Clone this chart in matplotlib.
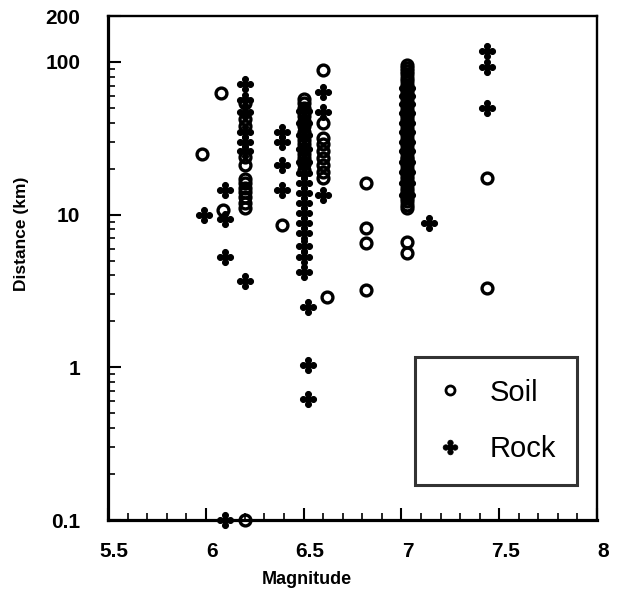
import numpy as np
import matplotlib
matplotlib.use("Agg")
import matplotlib.pyplot as plt
from matplotlib.path import Path
from matplotlib.lines import Line2D
from matplotlib.ticker import FixedLocator, NullFormatter
from matplotlib.transforms import ScaledTranslation

plt.rcParams['font.family'] = ['Liberation Sans', 'DejaVu Sans']

# Soil sites: (magnitude, distance in km)
soil_mag = [5.98, 6.08, 6.09,
            6.2, 6.2, 6.2, 6.2, 6.2, 6.2, 6.2, 6.2, 6.2, 6.2, 6.2, 6.2, 6.2,
            6.39,
            6.5, 6.5, 6.5, 6.5, 6.5, 6.5, 6.5, 6.5, 6.5, 6.5, 6.5, 6.5,
            6.5, 6.5, 6.5, 6.5,
            6.6, 6.6, 6.6, 6.6, 6.6, 6.6, 6.6, 6.6, 6.6, 6.62,
            6.82, 6.82, 6.82, 6.82,
            7.03, 7.03, 7.03, 7.03, 7.03, 7.03, 7.03, 7.03, 7.03, 7.03,
            7.03, 7.03, 7.03, 7.03, 7.03, 7.03, 7.03, 7.03, 7.03, 7.03,
            7.03, 7.03, 7.03, 7.03, 7.03, 7.03, 7.03, 7.03, 7.03, 7.03,
            7.03, 7.03, 7.03, 7.03, 7.03, 7.03, 7.03, 7.03, 7.03, 7.03,
            7.03, 7.03, 7.03,
            7.03, 7.03,
            7.44, 7.44]
soil_dist = [25, 63, 10.7,
             54, 42, 38, 24, 21, 17, 16, 15, 14, 13, 12, 11, 0.1,
             8.5,
             57, 54, 50, 47, 44, 41, 38, 35, 33, 31, 29, 27,
             25, 23.5, 21.5, 19.5,
             88, 40, 32, 29, 26, 23.5, 21, 19, 17.5, 2.9,
             16, 8.2, 6.5, 3.2,
             95, 91, 87, 83, 79, 75, 71, 67, 64, 61,
             58, 55, 52, 49, 47, 45, 43, 41, 39, 37,
             35, 33, 31.5, 30, 28.5, 27, 25.5, 24, 23, 22,
             21, 20, 19, 18, 17, 16, 15, 14.3, 13.6, 12.9,
             12.2, 11.5, 11,
             6.6, 5.6,
             17.5, 3.3]

# Rock sites: (magnitude, distance in km)
rock_mag = [5.99,
            6.1, 6.1, 6.1, 6.1,
            6.2, 6.2, 6.2, 6.2, 6.2, 6.2, 6.2,
            6.39, 6.39, 6.39, 6.39,
            6.5, 6.5, 6.5, 6.5, 6.5, 6.5, 6.5, 6.5, 6.5, 6.5, 6.5, 6.5,
            6.5, 6.5, 6.5, 6.52, 6.52, 6.52,
            6.6, 6.6, 6.6,
            7.03, 7.03, 7.03, 7.03, 7.03, 7.03, 7.03, 7.03, 7.03, 7.03,
            7.03, 7.03,
            7.14,
            7.44, 7.44, 7.44]
rock_dist = [10,
             14.5, 9.3, 5.3, 0.1,
             72, 56, 47, 35, 30, 26, 3.7,
             35, 30, 21, 14.5,
             48, 40, 33, 27, 22, 18.6, 16.2, 13.9, 11.9, 10.2, 8.8, 7.6,
             6.2, 5.3, 4.2, 2.5, 1.03, 0.62,
             64, 47, 13.5,
             68, 60, 53, 46, 40, 35, 30, 26, 22, 19,
             16, 13.5,
             8.8,
             118, 92, 50]

x_ticks = [5.5, 6, 6.5, 7, 7.5, 8]
x_tick_labels = ['5.5', '6', '6.5', '7', '7.5', '8']
y_ticks = [0.1, 1, 10, 100, 200]
y_tick_labels = ['0.1', '1', '10', '100', '200']


def lobed_cross():
    """Four-lobed cross outline (club-like plus sign)."""
    th = np.linspace(0, 2 * np.pi, 721)[:-1]
    rs = np.linspace(0, 1.2, 600)
    out = []
    for t in th:
        px = rs * np.cos(t)
        py = rs * np.sin(t)
        inside = (px ** 2 + py ** 2) <= 0.34 ** 2
        for cx, cy in [(0.62, 0), (-0.62, 0), (0, 0.62), (0, -0.62)]:
            inside |= (px - cx) ** 2 + (py - cy) ** 2 <= 0.36 ** 2
        inside |= (np.abs(px) <= 0.18) & (np.abs(py) <= 0.7)
        inside |= (np.abs(py) <= 0.18) & (np.abs(px) <= 0.7)
        r = rs[inside].max()
        out.append((r * np.cos(t), r * np.sin(t)))
    out.append(out[0])
    codes = [Path.MOVETO] + [Path.LINETO] * (len(out) - 2) + [Path.CLOSEPOLY]
    return Path(out, codes)


rock_marker = lobed_cross()

fig = plt.figure(figsize=(6.21, 5.98), dpi=100)
ax = fig.add_axes([108 / 621, (598 - 520) / 598, (597 - 108) / 621, (520 - 16) / 598])

ax.plot(soil_mag, soil_dist, linestyle='none', marker='o', markersize=7.8,
        markerfacecolor='none', markeredgecolor='black', markeredgewidth=2.4,
        clip_on=False, zorder=3)
ax.plot(rock_mag, rock_dist, linestyle='none', marker=rock_marker, markersize=11.5,
        markerfacecolor='black', markeredgecolor='black', markeredgewidth=0.8,
        clip_on=False, zorder=3)

ax.set_yscale('log')
ax.set_xlim(5.5, 8)
ax.set_ylim(0.1, 200)

ax.set_xticks(x_ticks)
ax.set_xticklabels(x_tick_labels)
ax.xaxis.set_minor_locator(FixedLocator(np.round(np.arange(5.6, 8.0, 0.1), 2)))
ax.set_yticks(y_ticks)
ax.set_yticklabels(y_tick_labels)
minors = [m * 10.0 ** e for e in (-1, 0, 1) for m in range(2, 10)]
ax.yaxis.set_minor_locator(FixedLocator(minors))
ax.yaxis.set_minor_formatter(NullFormatter())

ax.tick_params(axis='both', which='major', direction='in', length=9, width=1.5,
               labelsize=15)
ax.tick_params(axis='both', which='minor', direction='in', length=5, width=1.2)
ax.tick_params(axis='x', which='both', pad=16)
ax.tick_params(axis='y', which='both', pad=20)
shift = ScaledTranslation(6 / 100, 0, fig.dpi_scale_trans)
for lab in ax.get_xticklabels():
    lab.set_fontweight('bold')
    lab.set_transform(lab.get_transform() + shift)
for lab in ax.get_yticklabels():
    lab.set_fontweight('bold')

for side in ['left', 'bottom']:
    ax.spines[side].set_linewidth(2.3)
for side in ['top', 'right']:
    ax.spines[side].set_linewidth(1.7)

ax.set_xlabel('Magnitude', fontsize=13, fontweight='bold')
ax.set_ylabel('Distance (km)', fontsize=12.5, fontweight='bold')
ax.xaxis.set_label_coords((307 - 108) / 489, -(580 - 520) / 504)
ax.yaxis.set_label_coords(-(108 - 22) / 489, (520 - 234) / 504)
ax.xaxis.label.set_verticalalignment('center')
ax.yaxis.label.set_verticalalignment('center')

handles = [
    Line2D([], [], linestyle='none', marker='o', markersize=6.5,
           markerfacecolor='none', markeredgecolor='black', markeredgewidth=2.0),
    Line2D([], [], linestyle='none', marker=rock_marker, markersize=10.5,
           markerfacecolor='black', markeredgecolor='black', markeredgewidth=0.6),
]
leg = ax.legend(handles, ['Soil', 'Rock'], loc='upper left',
                bbox_to_anchor=((415 - 108) / 489, (520 - 357) / 504),
                fontsize=21, frameon=True, fancybox=False, borderpad=0.74,
                labelspacing=0.98, handlelength=0.94, handletextpad=0.87,
                borderaxespad=0)
leg.get_frame().set_edgecolor('black')
leg.get_frame().set_linewidth(2.2)

fig.savefig('out.png', dpi=100)
